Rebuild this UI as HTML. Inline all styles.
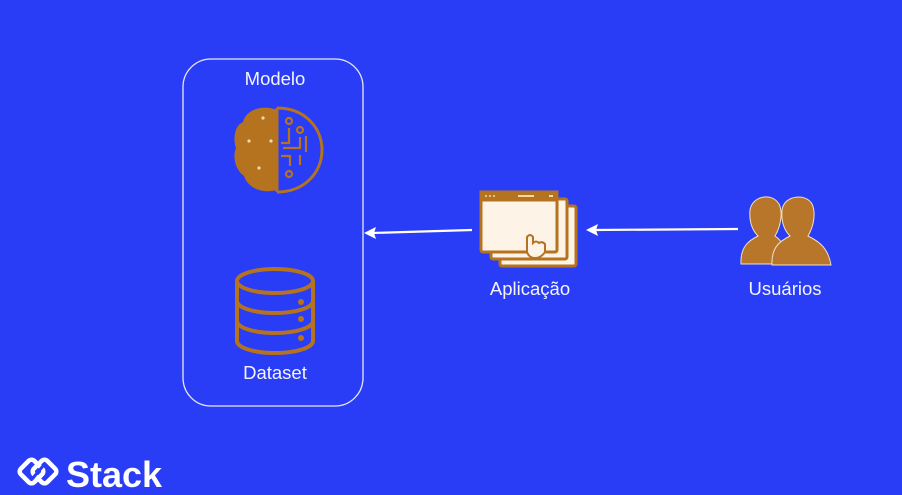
<!DOCTYPE html>
<html><head><meta charset="utf-8"><style>
html,body{margin:0;padding:0;background:#2a3df6;width:902px;height:495px;overflow:hidden}
svg{display:block}
text{font-family:"Liberation Sans",sans-serif;fill:#f4f4f8}
</style></head><body>
<svg width="902" height="495" viewBox="0 0 902 495">
<rect width="902" height="495" fill="#2a3df6"/>
<rect x="183" y="59" width="180" height="347" rx="28" fill="none" stroke="#e8e8f4" stroke-width="1.3"/>
<text x="275" y="85" font-size="18.5" text-anchor="middle">Modelo</text>
<g>
<path d="M277 110 C262 104 246 110 243 122 C234 126 233 140 236 148 C232 158 236 170 244 176 C248 188 262 194 277 190 Z" fill="#b5731f"/>
<path d="M277 108 C305 108 322 128 322 150 C322 172 305 192 277 192" fill="none" stroke="#b5731f" stroke-width="3"/>
<line x1="277" y1="108" x2="277" y2="192" stroke="#b5731f" stroke-width="3"/>
<g fill="#f3d9a8"><circle cx="263" cy="118" r="1.6"/><circle cx="249" cy="141" r="1.6"/><circle cx="271" cy="141" r="1.6"/><circle cx="259" cy="168" r="1.6"/></g>
<g fill="none" stroke="#b5731f" stroke-width="2.2">
<circle cx="289" cy="121" r="3"/><circle cx="300" cy="130" r="3"/><circle cx="289" cy="174" r="3"/>
<path d="M289 128 V143 H281"/><path d="M300 137 V148 H283"/><path d="M281 156 H290 V166"/>
<line x1="306" y1="136" x2="306" y2="152"/><line x1="300" y1="155" x2="300" y2="165"/>
</g>
</g>
<g fill="none" stroke="#b5731f" stroke-width="4">
<ellipse cx="275" cy="281" rx="38" ry="12"/>
<path d="M237 281 V341 A38 12 0 0 0 313 341 V281"/>
<path d="M237 301 A38 12 0 0 0 313 301"/>
<path d="M237 321 A38 12 0 0 0 313 321"/>
</g>
<g fill="#b5731f"><circle cx="301" cy="302" r="3"/><circle cx="301" cy="319" r="3"/><circle cx="301" cy="338" r="3"/></g>
<text x="275" y="379" font-size="18.5" text-anchor="middle">Dataset</text>
<g stroke="#fff" stroke-width="2.2" fill="#fff">
<line x1="472" y1="230" x2="372" y2="233"/>
<polygon points="364,233 376,227 374,233 376,239" stroke="none"/>
<line x1="738" y1="229" x2="594" y2="230"/>
<polygon points="586,230 598,224 596,230 598,236" stroke="none"/>
</g>
<g stroke="#b5731f" stroke-width="3">
<rect x="500" y="206" width="76" height="60" fill="#fdf3e6" rx="2"/>
<rect x="491" y="199" width="76" height="60" fill="#fdf3e6" rx="2"/>
<rect x="481" y="192" width="76" height="60" fill="#fdf3e6" rx="2"/>
<rect x="481" y="192" width="76" height="8" fill="#b5731f"/>
</g>
<g fill="#f3d9a8"><circle cx="486" cy="196" r="1"/><circle cx="490" cy="196" r="1"/><circle cx="494" cy="196" r="1"/><rect x="518" y="195" width="16" height="2"/><rect x="549" y="195" width="4" height="2"/></g>
<path d="M527 252 V237 Q530 233 533 237 V243 Q536 240 539 243 Q542 241 545 244 V252 Q541 258 535 258 Q529 258 527 252 Z" fill="#fdf3e6" stroke="#b5731f" stroke-width="2"/>
<text x="530" y="295" font-size="18.5" text-anchor="middle">Aplicação</text>
<g fill="#b8762a" stroke="#f0e0c8" stroke-width="1">
<path d="M741 264 C740 246 750 240 758 236 C752 230 749 222 750 210 C752 196 772 192 779 204 C783 212 781 226 775 236 C781 240 786 246 787 264 Z"/>
<path d="M772 265 C771 246 782 240 790 236 C784 230 781 222 782 210 C784 195 806 193 812 204 C816 212 814 226 808 236 C816 240 828 246 831 265 Z"/>
</g>
<text x="785" y="295" font-size="18.5" text-anchor="middle">Usuários</text>
<g fill="none" stroke="#fff" stroke-width="4.5" stroke-linejoin="round" stroke-linecap="round">
<rect x="22" y="462" width="19" height="19" rx="4" transform="rotate(45 31.5 471.5)"/>
<rect x="35" y="462" width="19" height="19" rx="4" transform="rotate(45 44.5 471.5)"/>
</g>
<line x1="33" y1="478" x2="43" y2="466" stroke="#2a3df6" stroke-width="3"/>
<text x="66" y="487" font-size="36" font-weight="bold" style="fill:#fff">Stack</text>
</svg>
</body></html>
